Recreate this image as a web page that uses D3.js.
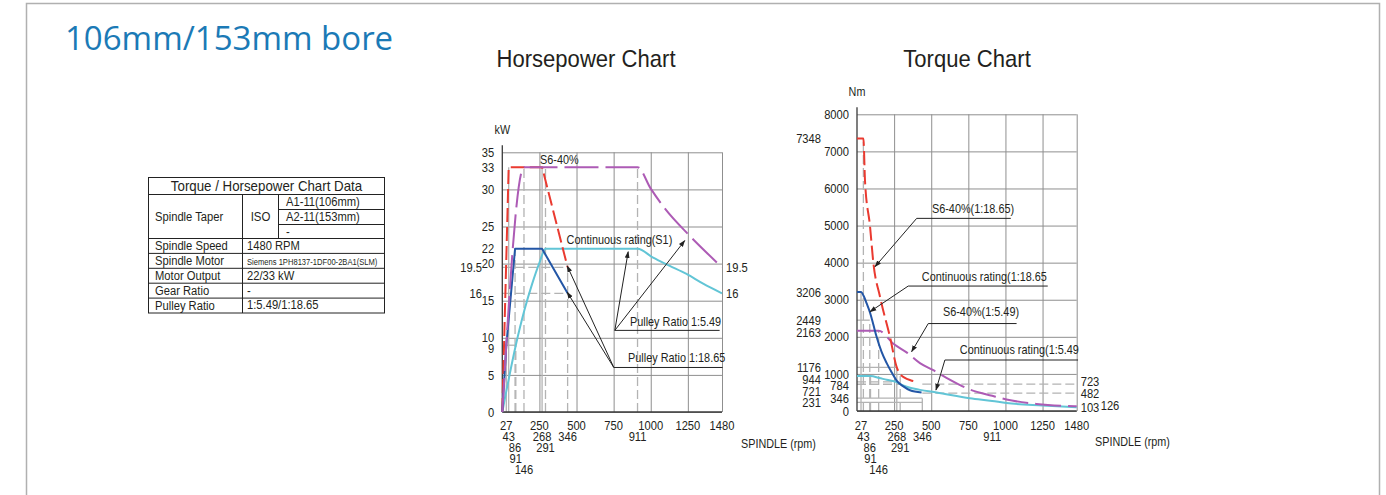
<!DOCTYPE html>
<html><head><meta charset="utf-8">
<script src="https://cdn.jsdelivr.net/npm/d3@7"></script>
<style>
html,body{margin:0;padding:0;background:#fff;}
svg{display:block;}
text{font-family:"Liberation Sans",Arial,sans-serif;fill:#231f20;}
</style></head><body><svg id="c" width="1386" height="495"></svg>
<script>
// ---------------- DATA ----------------
const pageTitle = "106mm/153mm bore";
const hpTitle = "Horsepower Chart";
const tqTitle = "Torque Chart";

const tableTitle = "Torque / Horsepower Chart Data";
const taperValues = ["A1-11(106mm)", "A2-11(153mm)", "-"];
const tableRows = [
  ["Spindle Speed", "1480 RPM"],
  ["Spindle Motor", "Siemens 1PH8137-1DF00-2BA1(SLM)"],
  ["Motor Output", "22/33 kW"],
  ["Gear Ratio", "-"],
  ["Pulley Ratio", "1:5.49/1:18.65"]
];

const rpmGrid = [250, 500, 750, 1000, 1250, 1480];
const xLabelRows = [
  ["27", "250", "500", "750", "1000", "1250", "1480"],
  ["43", "268", "346", "911"],
  ["86", "291"],
  ["91"],
  ["146"]
];
const xLabelAt = { "346": 440 };   // the source draws the 346 mark at this speed

// Horsepower chart (kW)
const kwGrid = [0, 5, 10, 15, 20, 25, 30, 35];
const kwLabels = [0, 5, 9, 10, 15, 20, 22, 25, 30, 33, 35];
const kwLabelsOuter = [16, 19.5];
const kwRightLabels = [19.5, 16];

const hpS6_1865 = [[0, 0], [43, 33], [268, 33], [440, 19.5]];
const hpS1_1865 = [[0, 0], [27, 9], [86, 22], [268, 22], [440, 16]];
const hpS6_549 = [[0, 0], [146, 33], [911, 33], [1000, 30.1], [1100, 27.3], [1250, 24], [1370, 21.6], [1480, 19.5]];
const hpS1_549 = [[0, 0], [91, 9], [150, 13.8], [200, 17.2], [250, 20.1], [291, 22], [911, 22], [1016, 20.8], [1128, 19.7], [1241, 18.6], [1353, 17.3], [1480, 16]];

// Torque chart (Nm)
const nmGrid = [0, 1000, 2000, 3000, 4000, 5000, 6000, 7000, 8000];
const nmLabels = [0, 346, 784, 1000, 2000, 3000, 4000, 5000, 6000, 7000, 8000];
const nmLabelsOuter = [231, 721, 944, 1176, 2163, 2449, 3206, 7348];
const nmRightLabels = [723, 482, 103, 126];

const tqS6_1865 = [[0, 7348], [43, 7348], [54, 6200], [88, 4970], [110, 4000], [155, 3080], [222, 2000], [268, 1176], [290, 1000], [320, 900], [360, 830], [400, 790]];
const tqS1_1865 = [[0, 3206], [27, 3206], [45, 3100], [65, 2900], [88, 2650], [110, 2330], [132, 2000], [165, 1600], [200, 1290], [235, 1030], [267, 820], [310, 670], [357, 560], [435, 500]];
const tqS6_549 = [[0, 2163], [146, 2163], [250, 1800], [334, 1580], [424, 1290], [514, 1100], [600, 900], [760, 580], [911, 410], [1007, 310], [1209, 190], [1480, 126]];
const tqS1_549 = [[0, 944], [91, 944], [150, 890], [200, 840], [267, 780], [291, 723], [424, 570], [536, 500], [760, 345], [911, 270], [1007, 215], [1250, 150], [1480, 103]];

// reference (construction) lines
const hpRefV = [[27, 9, 0], [43, 33, 0], [86, 22, 1], [91, 9, 1], [146, 33, 1], [268, 33, 0], [291, 33, 1], [440, 19.5, 1], [911, 33, 1]];
const hpRefH = [[9, 0, 91, 0], [16, 0, 440, 1], [19.5, 0, 440, 1]];
const tqRefV = [[27, 3206, 0], [43, 7348, 1], [86, 2449, 1], [91, 944, 1], [146, 2163, 1], [268, 1176, 0], [291, 944, 1], [440, 346, 0]];
const tqRefH = [[2449, 0, 86, 0], [1176, 0, 268, 0], [784, 0, 268, 1], [721, 0, 291, 1], [346, 0, 440, 0], [231, 0, 440, 0], [723, 440, 1480, 1], [482, 440, 1480, 1]];

// annotations
const hpNotes = [
  { text: "S6-40%", at: [254, 33.45] },
  { text: "Continuous rating(S1)", at: [433, 22.6] },
  { text: "Pulley Ratio 1:5.49", at: [860, 11.6], line: [[758, 11.0], [1464, 11.0]], tips: [[848, 21.6], [1229, 23.1]] },
  { text: "Pulley Ratio 1:18.65", at: [847, 6.75], line: [[751, 6.0], [1484, 6.0]], tips: [[437, 19.7], [437, 16.15]] }
];
const tqNotes = [
  { text: "S6-40%(1:18.65)", at: [505, 5337], line: [[402, 5194], [1036, 5194]], tips: [[121, 3889]] },
  { text: "Continuous rating(1:18.65", at: [437, 3504], line: [[345, 3369], [1285, 3369]], tips: [[87, 2676]] },
  { text: "S6-40%(1:5.49)", at: [579, 2561], line: [[480, 2358], [1075, 2358]], tips: [[368, 1598]] },
  { text: "Continuous rating(1:5.49", at: [693, 1536], line: [[592, 1375], [1489, 1375]], tips: [[532, 566]] }
];

// ---------------- STYLE ----------------
const C = { red: "#ea3a30", purple: "#ad5bb5", blue: "#2356a6", cyan: "#62c5d6", grid: "#8f8f8f", ref: "#b3b3b3", axis: "#3a3a3a" };

const svg = d3.select("#c");
const defs = svg.append("defs");
defs.append("marker").attr("id", "arr").attr("viewBox", "0 0 10 10").attr("refX", 9).attr("refY", 5)
  .attr("markerWidth", 7).attr("markerHeight", 7).attr("orient", "auto-start-reverse")
  .append("path").attr("d", "M0,1.5 L10,5 L0,8.5 z").attr("fill", "#222");

// condensed text helper
function T(g, x, y, str, size, anchor, sx) {
  return g.append("text").attr("transform", `translate(${x},${y}) scale(${sx || 0.87},1)`)
    .attr("text-anchor", anchor || "start").style("font-size", size + "px").text(str);
}

// frame
svg.append("path").attr("d", "M26.5,495 V3.5 H1379.5 V495").attr("fill", "none").attr("stroke", "#b0b0b0").attr("stroke-width", 1.5);

svg.append("text").attr("x", 65).attr("y", 50).text(pageTitle)
  .style("font-family", "'Open Sans','Noto Sans',sans-serif").style("font-size", "33px").style("fill", "#1b7ab6");

// ---------------- TABLE ----------------
(function table() {
  const g = svg.append("g");
  const x0 = 148.5, x1 = 242.5, x2 = 278.5, x3 = 384.5;
  const yH = [177.5, 194.5];
  const yTaper = [194.5, 209.5, 224.5, 238.5];
  const rowH = 14.9;
  const yEnd = 238.5 + rowH * tableRows.length;
  const ln = (a, b, c, d) => g.append("line").attr("x1", a).attr("y1", b).attr("x2", c).attr("y2", d).attr("stroke", "#222").attr("stroke-width", 1);
  g.append("rect").attr("x", x0).attr("y", yH[0]).attr("width", x3 - x0).attr("height", yEnd - yH[0]).attr("fill", "none").attr("stroke", "#222");
  ln(x0, yH[1], x3, yH[1]);
  T(g, (x0 + x3) / 2, 191, tableTitle, 14, "middle", 0.95);
  ln(x1, yH[1], x1, yEnd);
  ln(x2, yH[1], x2, yTaper[3]);
  ln(x2, yTaper[1], x3, yTaper[1]);
  ln(x2, yTaper[2], x3, yTaper[2]);
  ln(x0, yTaper[3], x3, yTaper[3]);
  T(g, 155, 221, "Spindle Taper", 13.5, "start", 0.83);
  T(g, (x1 + x2) / 2, 221, "ISO", 13.5, "middle", 0.85);
  taperValues.forEach((v, i) => T(g, 286, yTaper[i] + 11.5, v, 13.5, "start", 0.83));
  tableRows.forEach((r, i) => {
    const y = yTaper[3] + rowH * i;
    if (i > 0) ln(x0, y, x3, y);
    T(g, 155, y + 11.8, r[0], 13.5, "start", 0.83);
    const small = r[1].length > 20;
    T(g, 247, y + 11.3, r[1], small ? 9.5 : 13.5, "start", small ? 0.8 : 0.83);
  });
})();

// ---------------- CHART BUILDER ----------------
function chart(o) {
  const g = svg.append("g");
  const x = o.x, y = o.y;
  const [xl, xr] = x.range(), [yb, yt] = y.range();

  T(svg, o.titleX, 67, o.title, 24, "middle", 0.92);
  T(g, xl, o.unitY, o.unit, 12, "middle", 0.9);

  // grid via axes
  g.append("g").attr("transform", `translate(0,${yb})`)
    .call(d3.axisBottom(x).tickValues(rpmGrid).tickSize(-(yb - yt)).tickFormat(""))
    .call(s => { s.select(".domain").remove(); s.selectAll("line").attr("stroke", C.grid).attr("stroke-width", 1); });
  g.append("g").attr("transform", `translate(${xl},0)`)
    .call(d3.axisLeft(y).tickValues(o.yGrid).tickSize(-(xr - xl)).tickFormat(""))
    .call(s => { s.select(".domain").remove(); s.selectAll("line").attr("stroke", C.grid).attr("stroke-width", 1); });

  // reference lines
  o.refV.forEach(r => g.append("line").attr("x1", x(r[0])).attr("x2", x(r[0])).attr("y1", yb).attr("y2", y(r[1]))
    .attr("stroke", C.ref).attr("stroke-width", 1.3).attr("stroke-dasharray", r[2] ? "9,4" : null));
  o.refH.forEach(r => g.append("line").attr("x1", x(r[1])).attr("x2", x(r[2])).attr("y1", y(r[0])).attr("y2", y(r[0]))
    .attr("stroke", C.ref).attr("stroke-width", 1.3).attr("stroke-dasharray", r[3] ? "9,4" : null));

  // axes lines
  g.append("line").attr("x1", xl).attr("x2", xl).attr("y1", yb).attr("y2", yt - 7).attr("stroke", C.axis).attr("stroke-width", 1.3);
  g.append("line").attr("x1", xl).attr("x2", xr).attr("y1", yb).attr("y2", yb).attr("stroke", C.axis).attr("stroke-width", 1.3);

  // curves
  o.series.forEach(s => {
    const line = d3.line().x(d => x(d[0])).y(d => y(d[1])).curve(s.smooth ? d3.curveMonotoneX : d3.curveLinear);
    g.append("path").attr("d", line(s.data)).attr("fill", "none").attr("stroke", s.color).attr("stroke-width", 2)
      .attr("stroke-dasharray", s.dash || null).attr("stroke-linejoin", "round");
  });

  // y labels with collision push
  function yLabels(vals, xEnd, gap) {
    const arr = vals.map(v => ({ v, py: y(v) })).sort((a, b) => a.py - b.py);
    for (let i = 1; i < arr.length; i++) if (arr[i].py - arr[i - 1].py < gap) arr[i].py = arr[i - 1].py + gap;
    arr.forEach(d => T(g, xEnd, d.py + 4.6, d.v, 13, "end", 0.86));
  }
  yLabels(o.yLabels, xl - 8, 11);
  yLabels(o.yLabelsOuter, o.outerX, 11.8);

  // right labels: same value -> side by side, close values -> pushed apart vertically
  const rl = o.rightLabels.map(v => ({ v, py: y(v), px: xr + 4 })).sort((a, b) => b.py - a.py);
  for (let i = 1; i < rl.length; i++) {
    const p = rl[i - 1], c = rl[i];
    if (Math.abs(c.py - p.py) < 3) { c.px = p.px + 20; c.py = p.py - 1.5; }
    else if (p.py - c.py < 12) c.py = p.py - 12;
  }
  rl.forEach(d => T(g, d.px, d.py + 4.6, d.v, 13, "start", 0.86));

  // x labels
  const rowY = [430, 440.5, 451.5, 462.5, 474];
  xLabelRows.forEach((row, i) => row.forEach(t => {
    const v = xLabelAt[t] !== undefined ? xLabelAt[t] : +t;
    T(g, x(v), rowY[i], t, 13, "middle", 0.86);
  }));
  T(g, o.spindleX, o.spindleY, "SPINDLE (rpm)", 12, "start", 0.9);

  // annotations
  o.notes.forEach(n => {
    T(g, x(n.at[0]), y(n.at[1]), n.text, 12.5, "start", 0.87);
    if (n.line) {
      g.append("line").attr("x1", x(n.line[0][0])).attr("y1", y(n.line[0][1])).attr("x2", x(n.line[1][0])).attr("y2", y(n.line[1][1]))
        .attr("stroke", "#222").attr("stroke-width", 1);
      n.tips.forEach(t => g.append("line").attr("x1", x(n.line[0][0])).attr("y1", y(n.line[0][1])).attr("x2", x(t[0])).attr("y2", y(t[1]))
        .attr("stroke", "#222").attr("stroke-width", 1).attr("marker-end", "url(#arr)"));
    }
  });
}

chart({
  title: hpTitle, titleX: 586, unit: "kW", unitY: 134,
  x: d3.scaleLinear([0, 1480], [502.3, 722]),
  y: d3.scaleLinear([0, 35], [412, 152.3]),
  yGrid: kwGrid, yLabels: kwLabels, yLabelsOuter: kwLabelsOuter, outerX: 482, rightLabels: kwRightLabels,
  refV: hpRefV, refH: hpRefH,
  series: [
    { data: hpS1_549, color: C.cyan, smooth: true },
    { data: hpS6_1865, color: C.red, dash: "14,5" },
    { data: hpS1_1865, color: C.blue },
    { data: hpS6_549, color: C.purple, dash: "34,7", smooth: true }
  ],
  notes: hpNotes, spindleX: 741, spindleY: 448
});

chart({
  title: tqTitle, titleX: 967, unit: "Nm", unitY: 96,
  x: d3.scaleLinear([0, 1480], [857, 1076.7]),
  y: d3.scaleLinear([0, 8000], [411, 114.3]),
  yGrid: nmGrid, yLabels: nmLabels, yLabelsOuter: nmLabelsOuter, outerX: 821, rightLabels: nmRightLabels,
  refV: tqRefV, refH: tqRefH,
  series: [
    { data: tqS1_549, color: C.cyan, smooth: true },
    { data: tqS6_549, color: C.purple, dash: "26,7", smooth: true },
    { data: tqS1_1865, color: C.blue, smooth: true },
    { data: tqS6_1865, color: C.red, dash: "14,5", smooth: true }
  ],
  notes: tqNotes, spindleX: 1095, spindleY: 446
});
</script></body></html>
